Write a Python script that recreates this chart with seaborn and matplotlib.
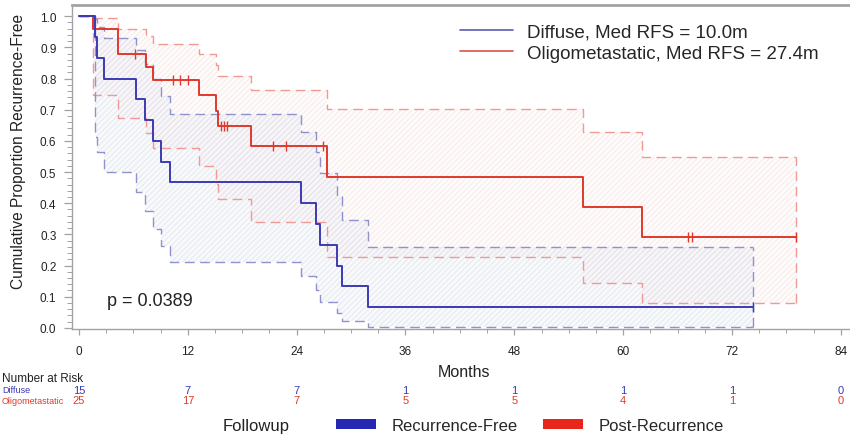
import numpy as np
import pandas as pd
import matplotlib
matplotlib.use("Agg")
import matplotlib.pyplot as plt
import matplotlib.transforms as mtransforms
from matplotlib.lines import Line2D
from matplotlib.patches import Patch
import seaborn as sns

# ---------------------------------------------------------------- data
# Kaplan-Meier steps (months, survival) with 95% confidence limits
diffuse_event_months = [1.8, 2.0, 2.8, 6.26, 7.29, 8.21, 9.02, 10.0,
                        24.44, 26.1, 26.6, 28.5, 29.0, 31.9]
diffuse_surv = [0.933, 0.867, 0.800, 0.733, 0.667, 0.600, 0.533, 0.467,
                0.400, 0.333, 0.267, 0.200, 0.133, 0.067]
diffuse_lower = [0.613, 0.564, 0.500, 0.436, 0.375, 0.318, 0.263, 0.212,
                 0.165, 0.122, 0.083, 0.049, 0.022, 0.004]
diffuse_upper = [0.990, 0.965, 0.931, 0.891, 0.846, 0.797, 0.744, 0.687,
                 0.628, 0.564, 0.496, 0.424, 0.346, 0.260]
diffuse_censor_months = [74.35]

oligo_event_months = [1.58, 4.26, 7.35, 8.2, 13.27, 15.1, 15.36, 18.96,
                      27.4, 55.6, 62.1]
oligo_surv = [0.960, 0.880, 0.838, 0.796, 0.746, 0.697, 0.647, 0.582,
              0.485, 0.388, 0.291]
oligo_lower = [0.748, 0.673, 0.624, 0.577, 0.518, 0.463, 0.412, 0.341,
               0.228, 0.144, 0.080]
oligo_upper = [0.994, 0.960, 0.936, 0.910, 0.878, 0.844, 0.807, 0.762,
               0.702, 0.630, 0.547]
oligo_censor_months = [6.17, 10.36, 11.13, 12.0, 15.7, 16.0, 16.3,
                       21.42, 22.79, 26.94, 67.18, 67.62, 79.0]

risk_months = [0, 12, 24, 36, 48, 60, 72, 84]
diffuse_at_risk = [15, 7, 7, 1, 1, 1, 1, 0]
oligo_at_risk = [25, 17, 7, 5, 5, 4, 1, 0]

group_labels = ["Diffuse, Med RFS = 10.0m", "Oligometastatic, Med RFS = 27.4m"]
p_value_text = "p = 0.0389"

# ---------------------------------------------------------------- style
sns.set_theme(style="white")
plt.rcParams["font.family"] = ["Liberation Sans", "DejaVu Sans"]
plt.rcParams["hatch.linewidth"] = 0.5

BLUE = "#3b3bb3"
RED = "#e0392b"
BLUE_CI = "#8f93cc"
RED_CI = "#ef9a94"
GRID_GRAY = "#a3a3a3"
DASH = (0, (7, 4))


def step_frame(events, surv, lower, upper, end):
    times = [0.0] + list(events) + [end]
    return pd.DataFrame({
        "month": times,
        "surv": [1.0] + list(surv) + [surv[-1]],
        "lower": [1.0] + list(lower) + [lower[-1]],
        "upper": [1.0] + list(upper) + [upper[-1]],
    })


def value_at(frame, t):
    idx = np.searchsorted(frame["month"].to_numpy(), t, side="right") - 1
    return frame["surv"].to_numpy()[idx]


diffuse = step_frame(diffuse_event_months, diffuse_surv, diffuse_lower,
                     diffuse_upper, max(diffuse_censor_months))
oligo = step_frame(oligo_event_months, oligo_surv, oligo_lower,
                   oligo_upper, max(oligo_censor_months))

fig = plt.figure(figsize=(8.5, 4.35), dpi=100)
W, H = 850.0, 435.0
ax = fig.add_axes([71.7 / W, (H - 329.5) / H, 787.3 / W, 323.5 / H])

# confidence bands: faint hatched fills with dashed limits
for frame, face, hatch_col, ci_col in [
        (oligo, (0.97, 0.85, 0.85, 0.10), "#f7e4e4", RED_CI),
        (diffuse, (0.78, 0.81, 0.90, 0.12), "#dfe2ee", BLUE_CI)]:
    ax.fill_between(frame["month"], frame["lower"], frame["upper"],
                    step="post", facecolor=face, edgecolor=hatch_col,
                    hatch="//////", linewidth=0, zorder=1)
    for col in ["lower", "upper"]:
        sns.lineplot(data=frame, x="month", y=col, ax=ax, color=ci_col,
                     drawstyle="steps-post", estimator=None, sort=False,
                     linewidth=1.0, linestyle=DASH, zorder=2, legend=False)
    end = frame["month"].iloc[-1]
    ax.vlines(end, frame["lower"].iloc[-1], frame["upper"].iloc[-1],
              colors=ci_col, linewidth=1.0, linestyles=DASH, zorder=2)

# survival curves
for frame, col in [(oligo, RED), (diffuse, BLUE)]:
    sns.lineplot(data=frame, x="month", y="surv", ax=ax, color=col,
                 drawstyle="steps-post", estimator=None, sort=False,
                 linewidth=1.4, zorder=3, legend=False)

# censoring marks
for frame, cens, col in [(oligo, oligo_censor_months, RED),
                         (diffuse, diffuse_censor_months, BLUE)]:
    ax.plot(cens, [value_at(frame, t) for t in cens], linestyle="none",
            marker="|", markersize=7, markeredgewidth=1.0, color=col,
            zorder=4)

# axes
ax.set_xlim(-0.8, 86.0)
ax.set_ylim(-0.002, 1.036)
ax.set_xticks(risk_months)
ax.set_xticks(np.arange(0, 87, 3), minor=True)
ax.set_yticks(np.arange(0, 1.01, 0.1))
ax.set_yticks(np.arange(0, 1.01, 0.02), minor=True)
ax.set_yticklabels([f"{v:.1f}" for v in np.arange(0, 1.01, 0.1)])
ax.set_xlabel("")
ax.set_ylabel("")
ax.tick_params(axis="both", which="both", direction="out", color=GRID_GRAY,
               labelcolor="#222222")
ax.tick_params(axis="y", which="major", length=6, width=0.9, pad=5,
               labelsize=8.5, left=True)
ax.tick_params(axis="y", which="minor", length=3.5, width=0.7, left=True)
ax.tick_params(axis="x", which="major", length=4, width=0.9, pad=8,
               labelsize=8.5, bottom=True)
ax.tick_params(axis="x", which="minor", length=3, width=0.7, bottom=True)
for side, lw in [("left", 1.0), ("bottom", 1.0), ("top", 2.0), ("right", 1.0)]:
    ax.spines[side].set_color(GRID_GRAY)
    ax.spines[side].set_linewidth(lw)

ax.text(3.1, 0.088, p_value_text, fontsize=13, va="center", ha="left",
        color="#222222")

handles = [Line2D([], [], color="#5a5ab4", linewidth=1.2),
           Line2D([], [], color="#d9544a", linewidth=1.2)]
ax.legend(handles, group_labels, loc="upper left",
          bbox_to_anchor=(460 / W, 1 - 24 / H), bbox_transform=fig.transFigure,
          frameon=False, fontsize=13.5, handlelength=2.83,
          handletextpad=0.77, labelspacing=0.25, borderpad=0,
          borderaxespad=0)

fig.text(18.5 / W, 1 - 151.5 / H, "Cumulative Proportion Recurrence-Free",
         rotation=90, ha="center", va="center", fontsize=11.2,
         color="#222222")
fig.text(464 / W, 1 - 372.5 / H, "Months", ha="center", va="center",
         fontsize=11.5, color="#222222")

# number-at-risk table
fig.text(2 / W, 1 - 379 / H, "Number at Risk", ha="left", va="center",
         fontsize=8.5, color="#222222")
fig.text(2 / W, 1 - 391 / H, "Diffuse", ha="left", va="center",
         fontsize=6.5, color=BLUE)
fig.text(2 / W, 1 - 401.5 / H, "Oligometastatic", ha="left", va="center",
         fontsize=6.5, color=RED)
row_tf = mtransforms.blended_transform_factory(ax.transData, fig.transFigure)
for m, nd, no in zip(risk_months, diffuse_at_risk, oligo_at_risk):
    ax.text(m, 1 - 391 / H, str(nd), transform=row_tf, ha="center",
            va="center", fontsize=8, color=BLUE, clip_on=False)
    ax.text(m, 1 - 401.5 / H, str(no), transform=row_tf, ha="center",
            va="center", fontsize=8, color=RED, clip_on=False)

# follow-up status key
fig.text(223 / W, 1 - 426.5 / H, "Followup", ha="left", va="center",
         fontsize=12, color="#222222")
fig.legend([Patch(facecolor="#2626b5", edgecolor="none"),
            Patch(facecolor="#e8261c", edgecolor="none")],
           ["Recurrence-Free", "Post-Recurrence"], ncol=2,
           loc="center left", bbox_to_anchor=(336 / W, 1 - 426.5 / H),
           frameon=False, fontsize=12, handlelength=2.4, handleheight=0.5,
           handletextpad=0.96, columnspacing=1.5, borderpad=0,
           borderaxespad=0)

fig.savefig("out.png", dpi=100)
